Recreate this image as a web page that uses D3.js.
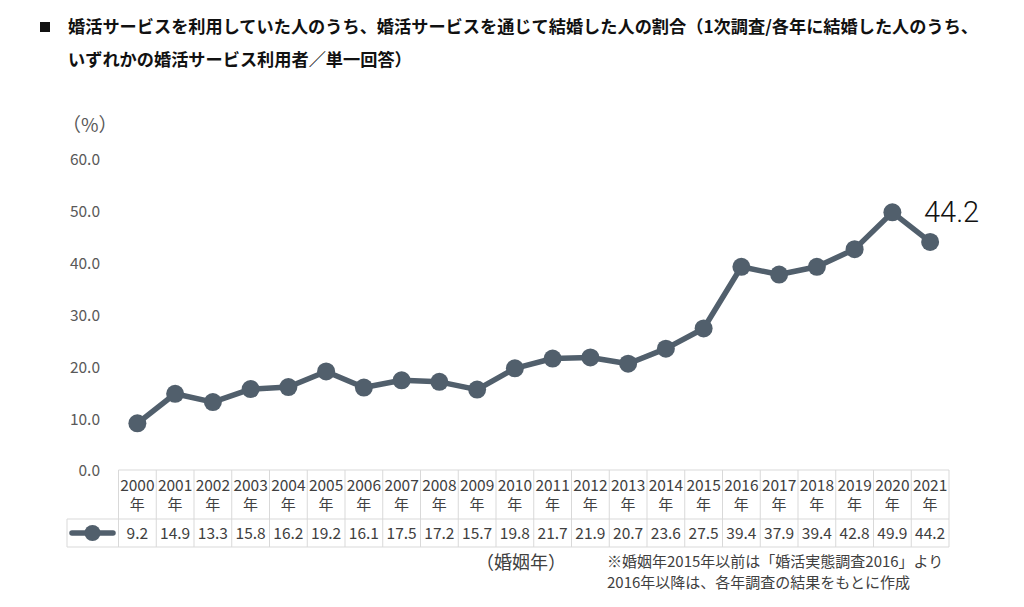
<!DOCTYPE html>
<html><head><meta charset="utf-8">
<script src="https://cdn.jsdelivr.net/npm/d3@7"></script>
<style>body{margin:0;background:#fff}svg{display:block}</style>
</head><body>
<script>
const years = ["2000","2001","2002","2003","2004","2005","2006","2007","2008","2009","2010","2011","2012","2013","2014","2015","2016","2017","2018","2019","2020","2021"];
const values = [9.2,14.9,13.3,15.8,16.2,19.2,16.1,17.5,17.2,15.7,19.8,21.7,21.9,20.7,23.6,27.5,39.4,37.9,39.4,42.8,49.9,44.2];
const yTicks = [0,10,20,30,40,50,60];
const titleLines = ["婚活サービスを利用していた人のうち、婚活サービスを通じて結婚した人の割合（1次調査/各年に結婚した人のうち、","いずれかの婚活サービス利用者／単一回答）"];
const noteLines = ["※婚姻年2015年以前は「婚活実態調査2016」より","2016年以降は、各年調査の結果をもとに作成"];

const W=1024,H=607;
const font = "'Noto Sans CJK JP','Noto Sans',sans-serif";
const col = "#515f6c";
const svg = d3.select("body").append("svg").attr("width",W).attr("height",H).style("font-family",font);

// title
svg.append("rect").attr("x",40).attr("y",22).attr("width",10).attr("height",10).attr("fill","#111");
titleLines.forEach((t,i)=>{
  svg.append("text").attr("x",68).attr("y",33+i*33).attr("font-size",17.2).attr("font-weight",700).attr("fill","#111").text(t);
});

const tableLeft=118.5, tableRight=949;
const x = d3.scaleBand().domain(years).range([tableLeft,tableRight]);
const y = d3.scaleLinear().domain([0,60]).range([471,160]);

// y axis labels
const yAxis = d3.axisLeft(y).tickValues(yTicks).tickFormat(d3.format(".1f")).tickSize(0).tickPadding(0);
const ga = svg.append("g").attr("transform","translate(100,0)").call(yAxis);
ga.select(".domain").remove();
ga.selectAll("text").attr("font-size",15.5).attr("fill","#595959").attr("font-family",font);
svg.append("text").attr("x",62).attr("y",132).attr("font-size",19).attr("fill","#595959").text("（%）");

// line
const line = d3.line().x((d,i)=>x(years[i])+x.bandwidth()/2).y(d=>y(d));
svg.append("path").datum(values).attr("d",line).attr("fill","none").attr("stroke",col).attr("stroke-width",5.5).attr("stroke-linejoin","round");
svg.selectAll("circle.pt").data(values).enter().append("circle").attr("class","pt")
  .attr("cx",(d,i)=>x(years[i])+x.bandwidth()/2).attr("cy",d=>y(d)).attr("r",9).attr("fill",col);

// annotation
svg.append("text").attr("x",924).attr("y",222).attr("font-size",29).attr("font-weight",300).attr("font-family","Roboto,sans-serif").attr("fill","#111").text(values[values.length-1].toFixed(1));

// table
const tTop=470, tMid=519, tBot=547, legLeft=67;
const g = svg.append("g");
const stroke="#d9d9d9";
g.append("line").attr("x1",tableLeft).attr("x2",tableRight).attr("y1",tTop).attr("y2",tTop).attr("stroke",stroke);
g.append("line").attr("x1",legLeft).attr("x2",tableRight).attr("y1",tMid).attr("y2",tMid).attr("stroke",stroke);
g.append("line").attr("x1",legLeft).attr("x2",tableRight).attr("y1",tBot).attr("y2",tBot).attr("stroke",stroke);
g.append("line").attr("x1",legLeft).attr("x2",legLeft).attr("y1",tMid).attr("y2",tBot).attr("stroke",stroke);
years.forEach(yr=>{
  g.append("line").attr("x1",x(yr)).attr("x2",x(yr)).attr("y1",tTop).attr("y2",tBot).attr("stroke",stroke);
});
g.append("line").attr("x1",tableRight).attr("x2",tableRight).attr("y1",tTop).attr("y2",tBot).attr("stroke",stroke);
years.forEach((yr,i)=>{
  const cx=x(yr)+x.bandwidth()/2;
  g.append("text").attr("x",cx).attr("y",491).attr("text-anchor","middle").attr("font-size",15.5).attr("fill","#404040").text(yr);
  g.append("text").attr("x",cx).attr("y",510).attr("text-anchor","middle").attr("font-size",15).attr("fill","#404040").text("年");
  g.append("text").attr("x",cx).attr("y",539).attr("text-anchor","middle").attr("font-size",15.5).attr("fill","#404040").text(values[i].toFixed(1));
});
// legend key
g.append("line").attr("x1",72).attr("x2",113).attr("y1",533).attr("y2",533).attr("stroke",col).attr("stroke-width",5.5).attr("stroke-linecap","round");
g.append("circle").attr("cx",92.5).attr("cy",533).attr("r",8).attr("fill",col);

// footer
svg.append("text").attr("x",476).attr("y",569).attr("font-size",18).attr("fill","#404040").text("（婚姻年）");
noteLines.forEach((t,i)=>{
  svg.append("text").attr("x",607).attr("y",567+i*20.5).attr("font-size",15).attr("fill","#404040").text(t);
});
</script>
</body></html>
